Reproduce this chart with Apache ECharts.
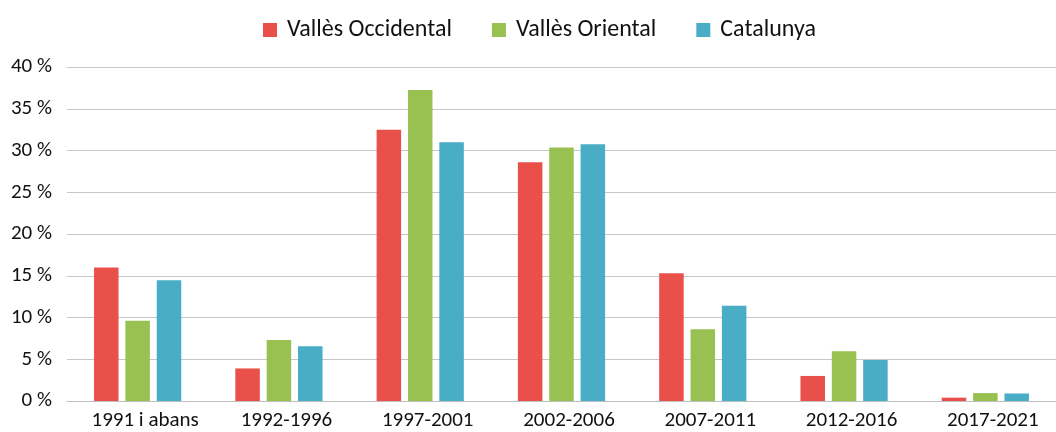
<!DOCTYPE html>
<html>
<head>
<meta charset="utf-8">
<script src="https://cdn.jsdelivr.net/npm/echarts@6/dist/echarts.min.js"></script>
<style>
  html, body { margin: 0; padding: 0; background: #fff; }
  #chart { width: 1056px; height: 432px; }
</style>
</head>
<body>
<div id="chart"></div>
<script>
// periods on the x axis
const categories = ['1991 i abans', '1992-1996', '1997-2001', '2002-2006', '2007-2011', '2012-2016', '2017-2021'];

// shares in %
const vallesOccidental = [16.0, 3.9, 32.5, 28.6, 15.3, 3.0, 0.4];
const vallesOriental = [9.6, 7.3, 37.25, 30.35, 8.6, 5.95, 0.95];
const catalunya = [14.45, 6.55, 31.0, 30.75, 11.4, 4.9, 0.9];

const seriesNames = ['Vallès Occidental', 'Vallès Oriental', 'Catalunya'];
const colors = ['#E9504A', '#98C151', '#4AADC6'];

const font = 'Carlito, Lato, "Open Sans", sans-serif';

const chart = echarts.init(document.getElementById('chart'));

function bar(name, data, color) {
    return {
        name: name,
        type: 'bar',
        data: data,
        barWidth: 24.5,
        barGap: '28%',
        itemStyle: { color: color },
        emphasis: { disabled: true }
    };
}

const option = {
    animation: false,
    textStyle: { fontFamily: font },
    color: colors,
    legend: {
        left: 258,
        top: 13,
        itemWidth: 14,
        itemHeight: 14,
        itemGap: 40,
        icon: 'rect',
        textStyle: { fontSize: 24, color: '#111', fontFamily: font, padding: [0, 0, 0, 5] },
        data: seriesNames
    },
    grid: { left: 67, width: 1002, top: 67, bottom: 31, containLabel: false },
    xAxis: {
        type: 'category',
        data: categories,
        axisTick: { show: false },
        axisLine: { lineStyle: { color: '#BFBFBF', width: 1 } },
        axisLabel: { fontSize: 21, color: '#111', margin: 9, padding: [0, 0, 0, 15] }
    },
    yAxis: {
        type: 'value',
        min: 0,
        max: 40,
        interval: 5,
        axisLine: { show: false },
        axisTick: { show: false },
        splitLine: { lineStyle: { color: '#C6C6C6', width: 1 } },
        axisLabel: { fontSize: 21, color: '#111', margin: 15, formatter: '{value} %' }
    },
    series: [
        bar(seriesNames[0], vallesOccidental, colors[0]),
        bar(seriesNames[1], vallesOriental, colors[1]),
        bar(seriesNames[2], catalunya, colors[2])
    ]
};

chart.setOption(option);
</script>
</body>
</html>
